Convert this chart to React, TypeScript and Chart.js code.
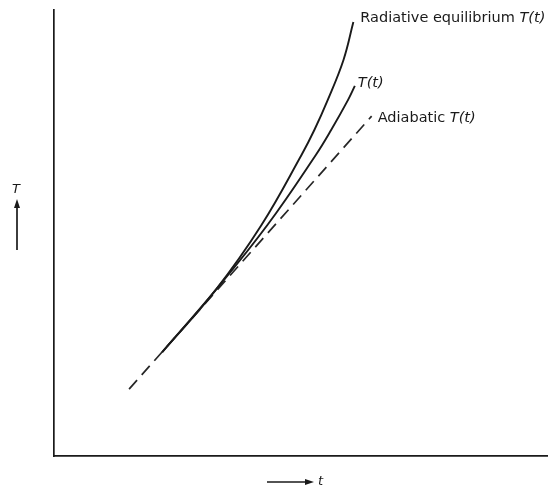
import { useEffect, useRef } from "react";
import { Chart, registerables } from "chart.js";

Chart.register(...registerables);

// time t (arbitrary units) and temperature T (arbitrary units)
const adiabaticTime = [1.52, 6.43];
const adiabaticTemp = [1.5, 7.62];

const radiativeTime = [2.19, 3.27, 4.2, 5.01, 5.27, 5.54, 5.86, 6.06];
const radiativeTemp = [2.33, 3.72, 5.18, 6.75, 7.31, 7.98, 8.88, 9.73];

const actualTime = [2.19, 3.27, 4.32, 5.3, 5.61, 5.95, 6.09];
const actualTemp = [2.33, 3.72, 5.18, 6.75, 7.31, 7.98, 8.3];

const seriesPrefixes = ["Radiative equilibrium", "", "Adiabatic"];
const seriesSuffix = "T(t)";
const yAxisLabel = "T";
const xAxisLabel = "t";

const INK = "#1a1a1a";
const FONT = '"DejaVu Sans", "Liberation Sans", sans-serif';

function pts(xs: number[], ys: number[]) {
  return xs.map((x, i) => ({ x, y: ys[i] }));
}

const labelPlugin = {
  id: "curveLabels",
  afterDatasetsDraw(chart: any, _args: any, opts: any) {
    const ctx = chart.ctx as CanvasRenderingContext2D;
    const offsets: number[][] = opts.offsets || [];
    ctx.save();
    ctx.fillStyle = INK;
    ctx.textBaseline = "middle";
    ctx.textAlign = "left";
    chart.data.datasets.forEach((_ds: any, i: number) => {
      const meta = chart.getDatasetMeta(i);
      const last = meta.data[meta.data.length - 1];
      const off = offsets[i] || [4, 0];
      let x = last.x + off[0];
      const y = last.y + off[1];
      const prefix = seriesPrefixes[i];
      if (prefix) {
        ctx.font = `14.5px ${FONT}`;
        const s = prefix + " ";
        ctx.fillText(s, x, y);
        x += ctx.measureText(s).width;
      }
      ctx.font = `italic 14.5px ${FONT}`;
      ctx.fillText(seriesSuffix, x, y);
    });

    const area = chart.chartArea;
    ctx.strokeStyle = INK;
    ctx.lineWidth = 1.7;
    // y axis label with upward arrow
    const ax = area.left - 37;
    ctx.font = `italic 13px ${FONT}`;
    ctx.textAlign = "center";
    ctx.fillText(yAxisLabel, ax - 1, area.top + 180);
    ctx.beginPath();
    ctx.moveTo(ax, area.top + 240);
    ctx.lineTo(ax, area.top + 196);
    ctx.stroke();
    ctx.beginPath();
    ctx.moveTo(ax, area.top + 189);
    ctx.lineTo(ax - 3, area.top + 198);
    ctx.lineTo(ax + 3, area.top + 198);
    ctx.closePath();
    ctx.fill();
    // x axis label with rightward arrow
    const ay = area.bottom + 26;
    ctx.beginPath();
    ctx.moveTo(area.left + 213, ay);
    ctx.lineTo(area.left + 253, ay);
    ctx.stroke();
    ctx.beginPath();
    ctx.moveTo(area.left + 260, ay);
    ctx.lineTo(area.left + 251, ay - 3);
    ctx.lineTo(area.left + 251, ay + 3);
    ctx.closePath();
    ctx.fill();
    ctx.textAlign = "left";
    ctx.fillText(xAxisLabel, area.left + 264, ay);
    ctx.restore();
  },
};

export default function App() {
  const ref = useRef<HTMLCanvasElement | null>(null);

  useEffect(() => {
    document.body.style.margin = "0";
    const canvas = ref.current;
    if (!canvas) return;
    const chart = new Chart(canvas, {
      type: "line",
      data: {
        datasets: [
          {
            label: "Radiative equilibrium T(t)",
            data: pts(radiativeTime, radiativeTemp),
            borderColor: INK,
            borderWidth: 1.9,
            pointRadius: 0,
            tension: 0.4,
            fill: false,
          },
          {
            label: "T(t)",
            data: pts(actualTime, actualTemp),
            borderColor: INK,
            borderWidth: 1.9,
            pointRadius: 0,
            tension: 0.4,
            fill: false,
          },
          {
            label: "Adiabatic T(t)",
            data: pts(adiabaticTime, adiabaticTemp),
            borderColor: "#262626",
            borderWidth: 1.7,
            borderDash: [12, 7],
            pointRadius: 0,
            fill: false,
          },
        ],
      },
      options: {
        animation: false,
        responsive: false,
        devicePixelRatio: 1,
        layout: { padding: { left: 54, right: 0, top: 10, bottom: 33 } },
        scales: {
          x: {
            type: "linear",
            min: 0,
            max: 10,
            ticks: { display: false },
            grid: { display: false, drawTicks: false },
            border: { display: true, color: INK, width: 1.7 },
          },
          y: {
            type: "linear",
            min: 0,
            max: 10,
            ticks: { display: false },
            grid: { display: false, drawTicks: false },
            border: { display: true, color: INK, width: 1.7 },
          },
        },
        plugins: {
          legend: { display: false },
          tooltip: { enabled: false },
          curveLabels: { offsets: [[7, -4], [3, -3], [6, 2]] },
        } as any,
      },
      plugins: [labelPlugin],
    });
    return () => chart.destroy();
  }, []);

  return (
    <div style={{ width: 548, height: 489, background: "#fff" }}>
      <canvas ref={ref} width={548} height={489} style={{ width: 548, height: 489, display: "block" }} />
    </div>
  );
}
